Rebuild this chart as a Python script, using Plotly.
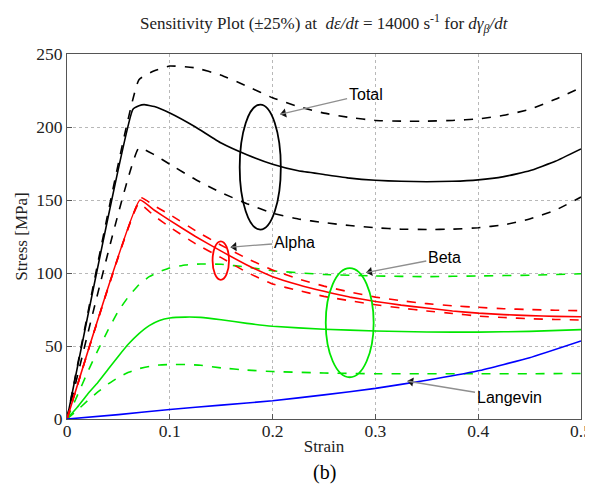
import math
import plotly.graph_objects as go

# ---------------- data ----------------
total_hi_x = [0, 0.070, 0.085, 0.1, 0.125, 0.15, 0.175, 0.2, 0.225, 0.25, 0.275, 0.3, 0.325, 0.35, 0.375, 0.4, 0.425, 0.45, 0.475, 0.5]
total_hi_y = [0, 232.4, 238.5, 241.8, 240.5, 235.5, 228, 220, 214, 209.5, 206.5, 204.5, 204, 204, 204.5, 205.5, 208, 212, 219, 227]

total_x = [0, 0.064, 0.070, 0.075, 0.085, 0.1, 0.125, 0.15, 0.175, 0.2, 0.225, 0.25, 0.275, 0.3, 0.325, 0.35, 0.375, 0.4, 0.425, 0.45, 0.475, 0.5]
total_y = [0, 212, 214.5, 215.3, 214, 209.6, 200, 189, 181, 174.5, 170, 167.5, 165, 163.5, 162.8, 162.5, 162.8, 163.8, 166, 170, 176.5, 185]

total_lo_x = [0, 0.070, 0.085, 0.1, 0.125, 0.15, 0.175, 0.2, 0.225, 0.25, 0.275, 0.3, 0.325, 0.35, 0.375, 0.4, 0.425, 0.45, 0.475, 0.5]
total_lo_y = [0, 185.6, 181, 174.5, 164, 155, 147.5, 141, 137, 134.5, 132.5, 131, 130, 129.8, 130, 131, 133, 137, 143, 152]

alpha_hi_x = [0, 0.072, 0.085, 0.1, 0.125, 0.15, 0.175, 0.2, 0.225, 0.25, 0.275, 0.3, 0.325, 0.35, 0.375, 0.4, 0.425, 0.45, 0.475, 0.5]
alpha_hi_y = [0, 151.5, 146, 140, 129, 119, 110, 102, 96, 91, 87, 83.5, 81, 79, 77.5, 76.5, 75.5, 75, 74.5, 74.2]

alpha_x = [0, 0.071, 0.085, 0.1, 0.125, 0.15, 0.175, 0.2, 0.225, 0.25, 0.275, 0.3, 0.325, 0.35, 0.375, 0.4, 0.425, 0.45, 0.475, 0.5]
alpha_y = [0, 150, 143, 136, 125, 115, 105.5, 97.5, 92, 87.5, 83.5, 80.5, 78, 76, 74, 72.5, 71.5, 70.8, 70.3, 70]

alpha_lo_x = [0, 0.070, 0.085, 0.1, 0.125, 0.15, 0.175, 0.2, 0.225, 0.25, 0.275, 0.3, 0.325, 0.35, 0.375, 0.4, 0.425, 0.45, 0.475, 0.5]
alpha_lo_y = [0, 147.5, 139, 131.5, 120, 110.5, 100.5, 92.5, 88, 84, 81, 78.3, 76, 74, 72.3, 70.5, 69.5, 68.7, 68.2, 67.8]

beta_x = [0, 0.01, 0.02, 0.03, 0.04, 0.05, 0.06, 0.07, 0.08, 0.09, 0.1, 0.115, 0.13, 0.15, 0.175, 0.2, 0.25, 0.3, 0.35, 0.4, 0.45, 0.5]
beta_hi_y = [0, 16, 32, 47, 61, 74, 84, 92, 97.5, 101, 103.4, 105.5, 106.2, 106, 104, 101.5, 99, 98, 97.5, 98, 98.5, 99.5]
beta_y = [0, 8, 17, 25, 34, 43, 51.5, 58.5, 64, 67.5, 69.2, 69.8, 69.6, 68, 65.5, 63.5, 61.5, 60.3, 59.6, 59.5, 60, 61.2]
beta_lo_y = [0, 6, 12.5, 18.5, 24, 28.5, 32, 34.5, 36, 37, 37.3, 37.3, 36.8, 35, 33.5, 32.5, 31.5, 31, 31, 31, 31, 31.2]

langevin_x = [0, 0.05, 0.1, 0.15, 0.2, 0.25, 0.3, 0.35, 0.4, 0.45, 0.5]
langevin_y = [0, 3, 6.5, 9.5, 12.5, 16.5, 21, 26.5, 33, 42, 53.5]

x_ticks = [0, 0.1, 0.2, 0.3, 0.4, 0.5]
x_tick_labels = ["0", "0.1", "0.2", "0.3", "0.4", "0.5"]
y_ticks = [0, 50, 100, 150, 200, 250]
y_tick_labels = ["0", "50", "100", "150", "200", "250"]

# ellipses: (label, centre strain, centre stress, half width, half height, colour)
ellipses = [
    ("Total", 0.188, 172.5, 0.020, 42.8, "black"),
    ("Alpha", 0.1496, 108.5, 0.008, 13.2, "#ff0000"),
    ("Beta", 0.275, 66.0, 0.0233, 37.4, "#00e600"),
]
# callouts: (text, text x, text y, tip x, tip y)
callouts = [
    ("Total", 0.2905, 222.3, 0.2053, 208.4),
    ("Alpha", 0.221, 121.0, 0.157, 117.6),
    ("Beta", 0.367, 110.6, 0.289, 100.0),
    ("Langevin", 0.430, 14.5, 0.329, 26.2),
]

# ---------------- figure ----------------
W, H = 593, 485
ML, MR, MT, MB = 59, 20, 46, 74
PX_X = (W - ML - MR) / 0.5      # pixels per strain unit
PX_Y = (H - MT - MB) / 250.0    # pixels per MPa

fig = go.Figure()

def add_line(x, y, color, dash):
    fig.add_trace(go.Scatter(x=x, y=y, mode="lines", showlegend=False, hoverinfo="skip",
                             line=dict(color=color, width=1.6, dash=dash, shape="spline", smoothing=0.35)))

BLACK, RED, GREEN, BLUE = "#000000", "#ff0000", "#00e600", "#0000ff"
add_line(total_hi_x, total_hi_y, BLACK, "dash")
add_line(total_x, total_y, BLACK, "solid")
add_line(total_lo_x, total_lo_y, BLACK, "dash")
add_line(beta_x, beta_hi_y, GREEN, "dash")
add_line(beta_x, beta_y, GREEN, "solid")
add_line(beta_x, beta_lo_y, GREEN, "dash")
add_line(alpha_hi_x, alpha_hi_y, RED, "dash")
add_line(alpha_x, alpha_y, RED, "solid")
add_line(alpha_lo_x, alpha_lo_y, RED, "dash")
add_line(langevin_x, langevin_y, BLUE, "solid")

for _, cx, cy, hw, hh, col in ellipses:
    fig.add_shape(type="circle", xref="x", yref="y", x0=cx - hw, x1=cx + hw, y0=cy - hh, y1=cy + hh,
                  line=dict(color=col, width=1.8))

sans = "Liberation Sans, Arial, sans-serif"
head_x, head_y, head_ang = [], [], []
for txt, tx, ty, px, py in callouts:
    fig.add_annotation(x=px, y=py, ax=tx, ay=ty, xref="x", yref="y", axref="x", ayref="y",
                       text=txt, showarrow=True, arrowhead=0, arrowwidth=1.3, arrowcolor="#8f8f8f",
                       standoff=3, font=dict(family=sans, size=16, color="black"))
    # direction text -> tip in screen pixels
    dx = (px - tx) * PX_X
    dy = -(py - ty) * PX_Y
    n = math.hypot(dx, dy)
    ux, uy = dx / n, dy / n
    head_ang.append(math.degrees(math.atan2(ux, -uy)))
    head_x.append(px - ux * 6 / PX_X)
    head_y.append(py + uy * 6 / PX_Y)

fig.add_trace(go.Scatter(x=head_x, y=head_y, mode="markers", showlegend=False, hoverinfo="skip",
                         marker=dict(symbol="triangle-up", size=8, color="#111111", angle=head_ang,
                                     line=dict(width=0))))

serif = "Liberation Serif, Times New Roman, serif"
fig.add_annotation(xref="paper", yref="paper", x=0.5, y=1.0, yshift=31, yanchor="middle", showarrow=False,
                   text="Sensitivity Plot (±25%) at  <i>dε/dt</i> = 14000 s<sup>-1</sup> for <i>dγ<sub>β</sub>/dt</i>",
                   font=dict(family=serif, size=17, color="#222"))
fig.add_annotation(xref="paper", yref="paper", x=0.5, y=0, yshift=-53, yanchor="middle", showarrow=False,
                   text="(b)", font=dict(family=serif, size=20, color="black"))

axis_common = dict(showline=True, mirror=True, linecolor="#555", linewidth=1,
                   ticks="inside", ticklen=5, tickcolor="#555",
                   showgrid=True, gridcolor="#b8b8b8", griddash="dot", gridwidth=1,
                   zeroline=False, tickfont=dict(family=serif, size=17.5, color="#222"), automargin=False)

fig.update_layout(
    width=W, height=H,
    margin=dict(l=ML, r=MR, t=MT, b=MB),
    plot_bgcolor="white", paper_bgcolor="white",
    xaxis=dict(range=[0, 0.5], tickvals=x_ticks, ticktext=x_tick_labels, ticklabelstandoff=-4,
               title=dict(text="Strain", font=dict(family=serif, size=17, color="#222"), standoff=0),
               **axis_common),
    yaxis=dict(range=[0, 250], tickvals=y_ticks, ticktext=y_tick_labels,
               title=dict(text="Stress [MPa]", font=dict(family=serif, size=17, color="#222"), standoff=4),
               **axis_common),
)

fig.write_html("out.html")
